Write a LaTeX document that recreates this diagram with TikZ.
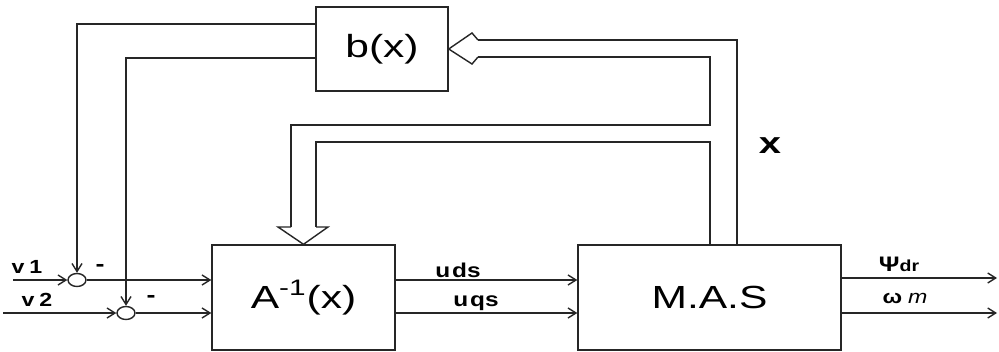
\documentclass[tikz,border=0pt]{standalone}
\usepackage{fontspec}
\setmainfont{Liberation Sans}
\newfontfamily\widefont[FakeStretch=1.33]{Liberation Sans}
\newfontfamily\labelfont[FakeStretch=1.22]{Liberation Sans}
\usetikzlibrary{arrows.meta, positioning, shapes.geometric}

\begin{document}
\begin{tikzpicture}[
  x=0.5pt, y=-0.5pt,
  blk/.style={
    rectangle, draw=black!85, line width=0.7pt,
    inner sep=0pt, font=\widefont\fontsize{16}{19}\selectfont},
  sumj/.style={
    ellipse, draw=black!85, line width=0.7pt,
    minimum width=9pt, minimum height=6.5pt, inner sep=0pt},
  lbl/.style={font=\labelfont\bfseries\fontsize{9.5}{11}\selectfont, inner sep=0pt},
  sig/.style={-{Straight Barb[length=4pt,width=5pt]}, line width=0.7pt, draw=black!85},
  bus/.style={line width=0.7pt, draw=black!85}
]

\fill[white] (0,0) rectangle (999,352);

%% Blocks
\node[blk, minimum width=66pt, minimum height=42pt]     (bx)   at (382,49)      {b(x)};
\node[blk, minimum width=91.5pt, minimum height=52.5pt] (ainv) at (303.5,297.5) {A\textsuperscript{-1}(x)};
\node[blk, minimum width=131.5pt, minimum height=52.5pt] (mas) at (709.5,297.5) {M.A.S};

%% Summing junctions
\node[sumj] (s1) at (77,280)  {};
\node[sumj] (s2) at (126,313) {};

%% Free ends and corners
\coordinate (v1in)   at (13,280);
\coordinate (v2in)   at (3,313);
\coordinate (psiout) at (997,278);
\coordinate (omout)  at (997,313);
\coordinate (fb1)    at (77,24);
\coordinate (fb2)    at (126,58);
\coordinate (busO)   at (737,40);
\coordinate (busI)   at (710,57);

%% Forward path
\draw[sig] (v1in) -- (s1);
\draw[sig] (v2in) -- (s2);
\draw[sig] (s1) -- (ainv.west |- s1);
\draw[sig] (s2) -- (ainv.west |- s2);
\draw[sig] (ainv.east |- s1) -- (mas.west |- s1);
\draw[sig] (ainv.east |- s2) -- (mas.west |- s2);
\draw[sig] (mas.east |- psiout) -- (psiout);
\draw[sig] (mas.east |- omout)  -- (omout);

%% Feedback b(x) -> junctions
\draw[sig] (bx.west |- fb1) -- (fb1) -- (s1);
\draw[sig] (bx.west |- fb2) -- (fb2) -- (s2);

%% State bus x
\draw[bus] (478,40) -- (busO) -- (mas.north -| busO);
\draw[bus] (478,57) -- (busI) -- (710,125) -- (291,125) -- (291,227);
\draw[bus] (mas.north -| busI) -- (710,142) -- (316,142) -- (316,227);
\draw[bus] (478,40) -- (472,33) -- (bx.east) -- (472,64) -- (478,57);
\draw[bus] (291,227) -- (278,227) -- (ainv.north) -- (328,227) -- (316,227);

%% Labels
\node[lbl] (v1lbl) at (27,267)  {v\hspace{2.5pt}1};
\node[lbl] (v2lbl) at (37,300)  {v\hspace{2.5pt}2};
\node[lbl, font=\labelfont\bfseries\fontsize{11}{12}\selectfont] (m1) at (100,268) {-};
\node[lbl, font=\labelfont\bfseries\fontsize{11}{12}\selectfont] (m2) at (151,299) {-};
\node[lbl, font=\labelfont\bfseries\fontsize{10}{12}\selectfont] (uds) at (458,270) {u\hspace{1pt}ds};
\node[lbl, font=\labelfont\bfseries\fontsize{10}{12}\selectfont] (uqs) at (476,303) {u\hspace{1pt}qs};
\node[lbl] (psi) at (899,264)
  {{\fontsize{10.5}{12}\selectfont Ψ}{\fontsize{8}{9}\selectfont dr}};
\node[lbl] (om)  at (905,298) {ω\hspace{3pt}{\mdseries\itshape m}};
\node[font=\widefont\bfseries\fontsize{15}{18}\selectfont, inner sep=0pt] (xlbl) at (770,146) {x};

\end{tikzpicture}
\end{document}
